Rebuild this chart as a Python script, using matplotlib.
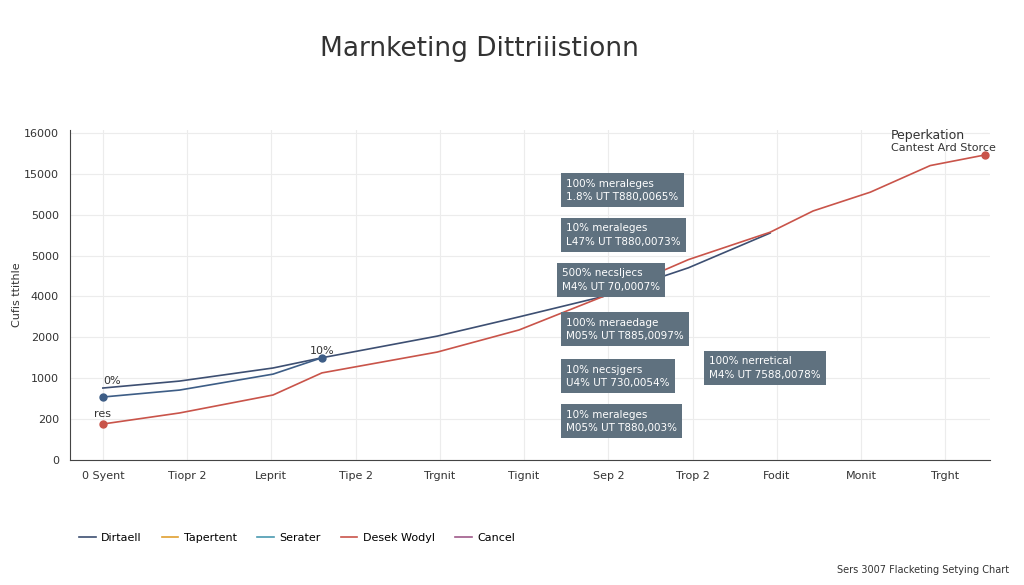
import matplotlib.pyplot as plt

y_tick_labels = ["0", "200", "1000", "2000", "4000", "5000", "5000", "15000", "16000"]
x_tick_labels = ["0 Syent", "Tiopr 2", "Leprit", "Tipe 2", "Trgnit", "Tignit",
                 "Sep 2", "Trop 2", "Fodit", "Monit", "Trght"]

navy_x = [0, 0.91, 2.02, 2.6, 3.97, 4.94, 5.94, 6.95, 7.92]
navy_y = [1.76, 1.93, 2.25, 2.5, 3.03, 3.5, 4.0, 4.7, 5.55]
blue_x = [0, 0.91, 2.02, 2.6]
blue_y = [1.54, 1.71, 2.1, 2.5]
red_x = [0, 0.91, 2.02, 2.6, 3.97, 4.94, 5.94, 6.95, 7.92, 8.43, 9.11, 9.82, 10.47]
red_y = [0.88, 1.15, 1.59, 2.13, 2.64, 3.18, 4.0, 4.9, 5.57, 6.09, 6.55, 7.2, 7.46]

boxes = [
    (5.5, 6.6, "100% meraleges\n1.8% UT T880,0065%"),
    (5.5, 5.5, "10% meraleges\nL47% UT T880,0073%"),
    (5.45, 4.4, "500% necsljecs\nM4% UT 70,0007%"),
    (5.5, 3.2, "100% meraedage\nM05% UT T885,0097%"),
    (5.5, 2.05, "10% necsjgers\nU4% UT 730,0054%"),
    (5.5, 0.95, "10% meraleges\nM05% UT T880,003%"),
    (7.2, 2.25, "100% nerretical\nM4% UT 7588,0078%"),
]

legend_names = ["Dirtaell", "Tapertent", "Serater", "Desek Wodyl", "Cancel"]
legend_colors = ["#3d4f72", "#e0a030", "#4a9ab0", "#c9544a", "#a05a8a"]

fig = plt.figure(figsize=(10.24, 5.85), dpi=100)
ax = fig.add_axes([70 / 1024, 125 / 585, 920 / 1024, 330 / 585])

ax.plot(navy_x, navy_y, color="#3d4f72", lw=1.2)
ax.plot(blue_x, blue_y, color="#3d5d86", lw=1.2)
ax.plot(red_x, red_y, color="#c9544a", lw=1.2)
ax.plot([blue_x[0], blue_x[-1]], [blue_y[0], blue_y[-1]], "o", color="#3d5d86", ms=5)
ax.plot([red_x[0], red_x[-1]], [red_y[0], red_y[-1]], "o", color="#c9544a", ms=5)

ax.text(0, 1.85, "0%", fontsize=8, color="#333")
ax.text(2.6, 2.6, "10%", fontsize=8, color="#333", ha="center")
ax.text(0, 1.05, "res", fontsize=8, color="#333", ha="center")

for bx, by, txt in boxes:
    ax.text(bx, by, txt, fontsize=7.5, color="white", va="center", linespacing=1.4,
            bbox=dict(boxstyle="square,pad=0.5", fc="#5f717f", ec="none"))

ax.text(9.35, 7.85, "Peperkation", fontsize=9, color="#333")
ax.text(9.35, 7.55, "Cantest Ard Storce", fontsize=8, color="#333")

ax.set_xlim(-0.39, 10.53)
ax.set_ylim(0, 8.07)
ax.set_xticks(range(len(x_tick_labels)))
ax.set_xticklabels(x_tick_labels, fontsize=8, color="#333")
ax.set_yticks(range(len(y_tick_labels)))
ax.set_yticklabels(y_tick_labels, fontsize=8, color="#333")
ax.tick_params(length=0, pad=8)
ax.grid(color="#ececec", lw=0.8)
for s in ["top", "right"]:
    ax.spines[s].set_visible(False)
ax.spines["left"].set_color("#444")
ax.spines["bottom"].set_color("#444")
ax.set_ylabel("Cufis ttithle", fontsize=8, color="#333")
ax.yaxis.set_label_coords(-0.052, 0.5)

for name, col in zip(legend_names, legend_colors):
    ax.plot([], [], color=col, lw=1.2, label=name)
fig.legend(loc="lower center", bbox_to_anchor=(0.29, 0.055), ncol=5, frameon=False,
           fontsize=8, handlelength=1.5, columnspacing=1.8, handletextpad=0.5)

fig.text(0.468, 0.905, "Marnketing Dittriiistionn", fontsize=19, color="#333", ha="center")
fig.text(0.985, 0.02, "Sers 3007 Flacketing Setying Chart", fontsize=7, color="#333", ha="right")

fig.savefig("out.png", dpi=100, facecolor="white")
